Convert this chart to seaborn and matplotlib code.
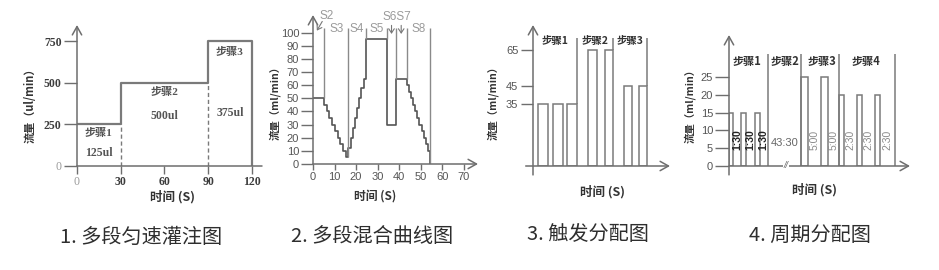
import matplotlib
matplotlib.use("Agg")
import matplotlib.pyplot as plt
import seaborn as sns
import pandas as pd

# ---------------- data ----------------
# 1. multi-stage constant-rate infusion (ul/min against s)
p1_time = [0, 30, 90, 120]
p1_rate = [250, 500, 750, 0]
p1_steps = ["步骤1", "步骤2", "步骤3"]
p1_xticks = [0, 30, 60, 90, 120]
p1_yticks = [0, 250, 500, 750]

# 2. multi-stage mixed curve (ml/min against s)
p2_time = [0, 5, 6.3, 7.5, 8.8, 10.1, 11.4, 12.6, 13.9, 15.2,
           16.5, 17.5, 18.5, 19.5, 20.5, 21.5, 22.5, 23.5, 24.5,
           34.5, 38.5,
           43.5, 44.5, 45.5, 46.5, 47.5, 48.5, 49.5, 50.5, 51.5, 52.5, 53.5, 54.5]
p2_rate = [50, 45, 40, 35, 30, 25, 20, 15, 10, 5,
           12.5, 20, 27.5, 35, 42.5, 50, 57.5, 65, 95,
           30, 65,
           60, 55, 50, 45, 40, 35, 30, 25, 20, 15, 10, 0]
p2_edges = [5, 16.5, 24.5, 34.5, 38.5, 43.5, 54.5]
p2_edge_floor = [50, 5, 95, 95, 65, 65, 0]
p2_segments = ["S3", "S4", "S5", "S8"]
p2_xticks = [0, 10, 20, 30, 40, 50, 60, 70]
p2_yticks = [0, 10, 20, 30, 40, 50, 60, 70, 80, 90, 100]

# 3. triggered dispensing (ml/min)
p3_start = [5, 20, 34, 55, 72, 91, 106]
p3_width = [10, 10, 10, 9, 8, 8, 8]
p3_rate = [35, 35, 35, 65, 65, 45, 45]
p3_step_end = [44, 80, 114]
p3_step_rate = [35, 65, 45]
p3_steps = ["步骤1", "步骤2", "步骤3"]
p3_yticks = [35, 45, 65]

# 4. periodic dispensing (ml/min)
p4_start = [0, 12, 26, 72.4, 92, 110, 128.4, 146.4]
p4_width = [4, 4.5, 4.5, 6.5, 6.5, 5, 5, 5]
p4_rate = [15, 15, 15, 25, 25, 20, 20, 20]
p4_period = ["1:30", "1:30", "1:30", "5:00", "5:00", "2:30", "2:30", "2:30"]
p4_step_end = [39, 72.4, 110, 165.7]
p4_steps = ["步骤1", "步骤2", "步骤3", "步骤4"]
p4_pause = "43:30"
p4_yticks = [0, 5, 10, 15, 20, 25]

captions = ["1. 多段匀速灌注图", "2. 多段混合曲线图", "3. 触发分配图", "4. 周期分配图"]

# ---------------- style ----------------
sns.set_theme(style="white")
plt.rcParams["font.family"] = ["Noto Sans CJK SC", "DejaVu Sans"]
plt.rcParams["axes.facecolor"] = "white"

W, H = 939, 270
AX_C = "#6e6e6e"
LINE_C = "#7a7a7a"
TXT_C = "#555555"
CJK = ["Noto Sans CJK SC", "DejaVu Sans"]
SERIF = ["Liberation Serif", "Noto Sans CJK SC"]
SANS = ["Liberation Sans", "Noto Sans CJK SC"]

fig = plt.figure(figsize=(W / 100, H / 100), dpi=100)
fig.patch.set_facecolor("white")


def panel(left, top, right, bottom, xmax, ymax):
    ax = fig.add_axes([left / W, 1 - bottom / H, (right - left) / W, (bottom - top) / H])
    ax.set_xlim(0, xmax)
    ax.set_ylim(0, ymax)
    for s in ax.spines.values():
        s.set_visible(False)
    ax.set_facecolor("none")
    return ax


def axis_line(ax, start, end, arrow=True, lw=1.1):
    ax.annotate("", xy=end, xytext=start, xycoords="data", textcoords="data",
                arrowprops=dict(arrowstyle="->,head_length=0.5,head_width=0.28" if arrow else "-",
                                color=AX_C, lw=lw, shrinkA=0, shrinkB=0, mutation_scale=12),
                annotation_clip=False)


def ticks(ax, xlen, ylen, size, fam, weight="normal", color="#555555"):
    ax.tick_params(axis="x", direction="out", length=xlen, width=1, color=AX_C, pad=1.5,
                   bottom=xlen > 0, labelbottom=True)
    ax.tick_params(axis="y", direction="out", length=ylen, width=1, color=AX_C, pad=1.5,
                   left=True)
    for lab in ax.get_xticklabels() + ax.get_yticklabels():
        lab.set_fontfamily(fam)
        lab.set_fontsize(size)
        lab.set_fontweight(weight)
        lab.set_color(color)


def fig_text(x, y, s, **kw):
    fig.text(x / W, 1 - y / H, s, ha="center", va="center", **kw)


# ---------- panel 1 ----------
ax1 = panel(77, 25, 262, 166, 127, 846)
df1 = pd.DataFrame({"t": p1_time, "q": p1_rate})
sns.lineplot(data=df1, x="t", y="q", ax=ax1, drawstyle="steps-post", estimator=None,
             sort=False, color=LINE_C, lw=1.6)
ax1.set(xlabel="", ylabel="")
ax1.vlines(p1_time[1:3], 0, p1_rate[0:2], colors=LINE_C, lw=1, linestyles=(0, (3, 2)))
axis_line(ax1, (0, 0), (0, 846))
axis_line(ax1, (0, 0), (127, 0), arrow=False)
ax1.set_xticks(p1_xticks)
ax1.set_xticks([15, 45, 75, 105], minor=True)
ax1.tick_params(axis="x", which="minor", direction="out", length=5.5, width=1, color=AX_C)
ax1.set_yticks(p1_yticks)
ticks(ax1, 5.5, 9.6, 8.5, SERIF, weight="bold", color="#3c3c3c")
ax1.get_xticklabels()[0].set_color("#9a9a9a")
ax1.get_xticklabels()[0].set_fontweight("normal")
ax1.get_yticklabels()[0].set_color("#9a9a9a")
ax1.get_yticklabels()[0].set_fontweight("normal")
step_label_y = [198, 444, 684]
vol_label_y = [78, 300, 318]
for i, name in enumerate(p1_steps):
    t0, t1 = p1_time[i], p1_time[i + 1]
    mid = (t0 + t1) / 2
    vol = p1_rate[i] * (t1 - t0) / 60
    ax1.text(mid, step_label_y[i], name, ha="center", va="center", fontsize=8,
             family=SERIF, color=TXT_C, fontweight="bold")
    ax1.text(mid, vol_label_y[i], f"{vol:g}ul", ha="center", va="center", fontsize=8.5,
             family=SERIF, color=TXT_C, fontweight="bold")
fig_text(30, 103, "流量（ul/min）", rotation=90, fontsize=8, fontweight="bold", color="#333333")
fig_text(172, 197, "时间 (S)", fontsize=9, fontweight="bold", color="#333333")

# ---------- panel 2 ----------
ax2 = panel(313, 15, 478, 164, 76.7, 113.4)
df2 = pd.DataFrame({"t": p2_time, "q": p2_rate})
sns.lineplot(data=df2, x="t", y="q", ax=ax2, drawstyle="steps-post", estimator=None,
             sort=False, color="#555555", lw=1.2)
ax2.set(xlabel="", ylabel="")
ax2.vlines(p2_edges, p2_edge_floor, 103.5, colors="#8a8a8a", lw=1)
axis_line(ax2, (0, 0), (0, 113.4))
axis_line(ax2, (0, 0), (76.7, 0))
ax2.set_xticks(p2_xticks)
ax2.set_yticks(p2_yticks)
ticks(ax2, 4, 8.5, 8, SANS, color="#555555")
seg_pairs = [(p2_edges[0], p2_edges[1]), (p2_edges[1], p2_edges[2]),
             (p2_edges[2], p2_edges[3]), (p2_edges[5], p2_edges[6])]
for name, (a, b) in zip(p2_segments, seg_pairs):
    ax2.text((a + b) / 2, 103, name, ha="center", va="center", fontsize=8.5,
             family=SANS, color="#9a9a9a")
ax2.text(6.5, 113, "S2", ha="center", va="center", fontsize=8.5, family=SANS, color="#9a9a9a")
ax2.annotate("", xy=(1.8, 101.5), xytext=(4.3, 108.5), arrowprops=dict(
    arrowstyle="->,head_length=0.3,head_width=0.2", color="#777777", lw=0.8,
    shrinkA=0, shrinkB=0, mutation_scale=10), annotation_clip=False)
ax2.text(39.2, 112, "S6S7", ha="center", va="center", fontsize=8.5, family=SANS, color="#9a9a9a")
for xm in [(p2_edges[3] + p2_edges[4]) / 2, (p2_edges[4] + p2_edges[5]) / 2]:
    ax2.annotate("", xy=(xm, 99), xytext=(xm, 105.5), arrowprops=dict(
        arrowstyle="->,head_length=0.3,head_width=0.2", color="#777777", lw=0.8,
        shrinkA=0, shrinkB=0, mutation_scale=10), annotation_clip=False)
fig_text(275, 100, "流量（ml/min）", rotation=90, fontsize=7.5, fontweight="bold", color="#333333")
fig_text(375, 196, "时间 (S)", fontsize=8.5, fontweight="bold", color="#333333")

# ---------- panel 3 ----------
ax3 = panel(533, 25, 670, 166, 137, 79)
ax3.bar(p3_start, p3_rate, width=p3_width, align="edge", fill=False,
        edgecolor="#7a7a7a", linewidth=1.1)
ax3.vlines(p3_step_end, p3_step_rate, 71.7, colors="#7a7a7a", lw=1.1)
axis_line(ax3, (0, -5), (0, 79))
axis_line(ax3, (-7.3, 0), (137, 0))
ax3.set_xticks([])
ax3.set_yticks(p3_yticks)
ticks(ax3, 0, 9, 8, SANS, color="#555555")
for name, x in zip(p3_steps, [22, 62, 97]):
    ax3.text(x, 69.8, name, ha="center", va="center", fontsize=7.5, color="#333333",
             fontweight="bold", family=CJK)
fig_text(493, 100, "流量（ml/min）", rotation=90, fontsize=7.5, fontweight="bold", color="#333333")
fig_text(602, 192, "时间 (S)", fontsize=9, fontweight="bold", color="#333333")

# ---------- panel 4 ----------
ax4 = panel(729, 35, 910, 166, 181, 36.9)
ax4.bar(p4_start, p4_rate, width=p4_width, align="edge", fill=False,
        edgecolor="#7a7a7a", linewidth=1.1)
ax4.vlines(p4_step_end, 0, 31.5, colors="#7a7a7a", lw=1.1)
axis_line(ax4, (0, -2.5), (0, 36.9))
axis_line(ax4, (0, 0), (181, 0))
ax4.set_xticks([])
ax4.set_yticks(p4_yticks)
ticks(ax4, 0, 10, 8, SANS, color="#555555")
bounds4 = p4_start[1:3] + [p4_step_end[0]] + [p4_start[4], p4_step_end[2]] + p4_start[6:8] + [p4_step_end[3]]
for i, lab in enumerate(p4_period):
    x0 = p4_start[i] + p4_width[i]
    xc = (x0 + bounds4[i]) / 2
    dark = lab == "1:30"
    ax4.text(xc, 7.3, lab, rotation=90, ha="center", va="center", fontsize=7.5,
             family=SANS, color="#222222" if dark else "#8a8a8a",
             fontweight="bold" if dark else "normal")
ax4.text(55.7, 6.5, p4_pause, ha="center", va="center", fontsize=8, family=SANS, color="#666666")
ax4.text(57, 0, "//", ha="center", va="center", fontsize=6.5, family=SANS, color="#666666",
         style="italic", bbox=dict(boxstyle="square,pad=0.05", fc="white", ec="none"))
for name, x in zip(p4_steps, [17.7, 56, 93, 137]):
    ax4.text(x, 29.3, name, ha="center", va="center", fontsize=8, color="#333333",
             fontweight="bold", family=CJK)
fig_text(690, 103, "流量（ml/min）", rotation=90, fontsize=7.5, fontweight="bold", color="#333333")
fig_text(815, 190, "时间 (S)", fontsize=9, fontweight="bold", color="#333333")

# ---------- captions ----------
for text, (x, y) in zip(captions, [(141, 237), (372, 237), (588, 234), (810, 235)]):
    fig_text(x, y, text, fontsize=14.5, fontweight="medium", color="#2e2e2e")

fig.savefig("out.png", dpi=100, facecolor="white")
